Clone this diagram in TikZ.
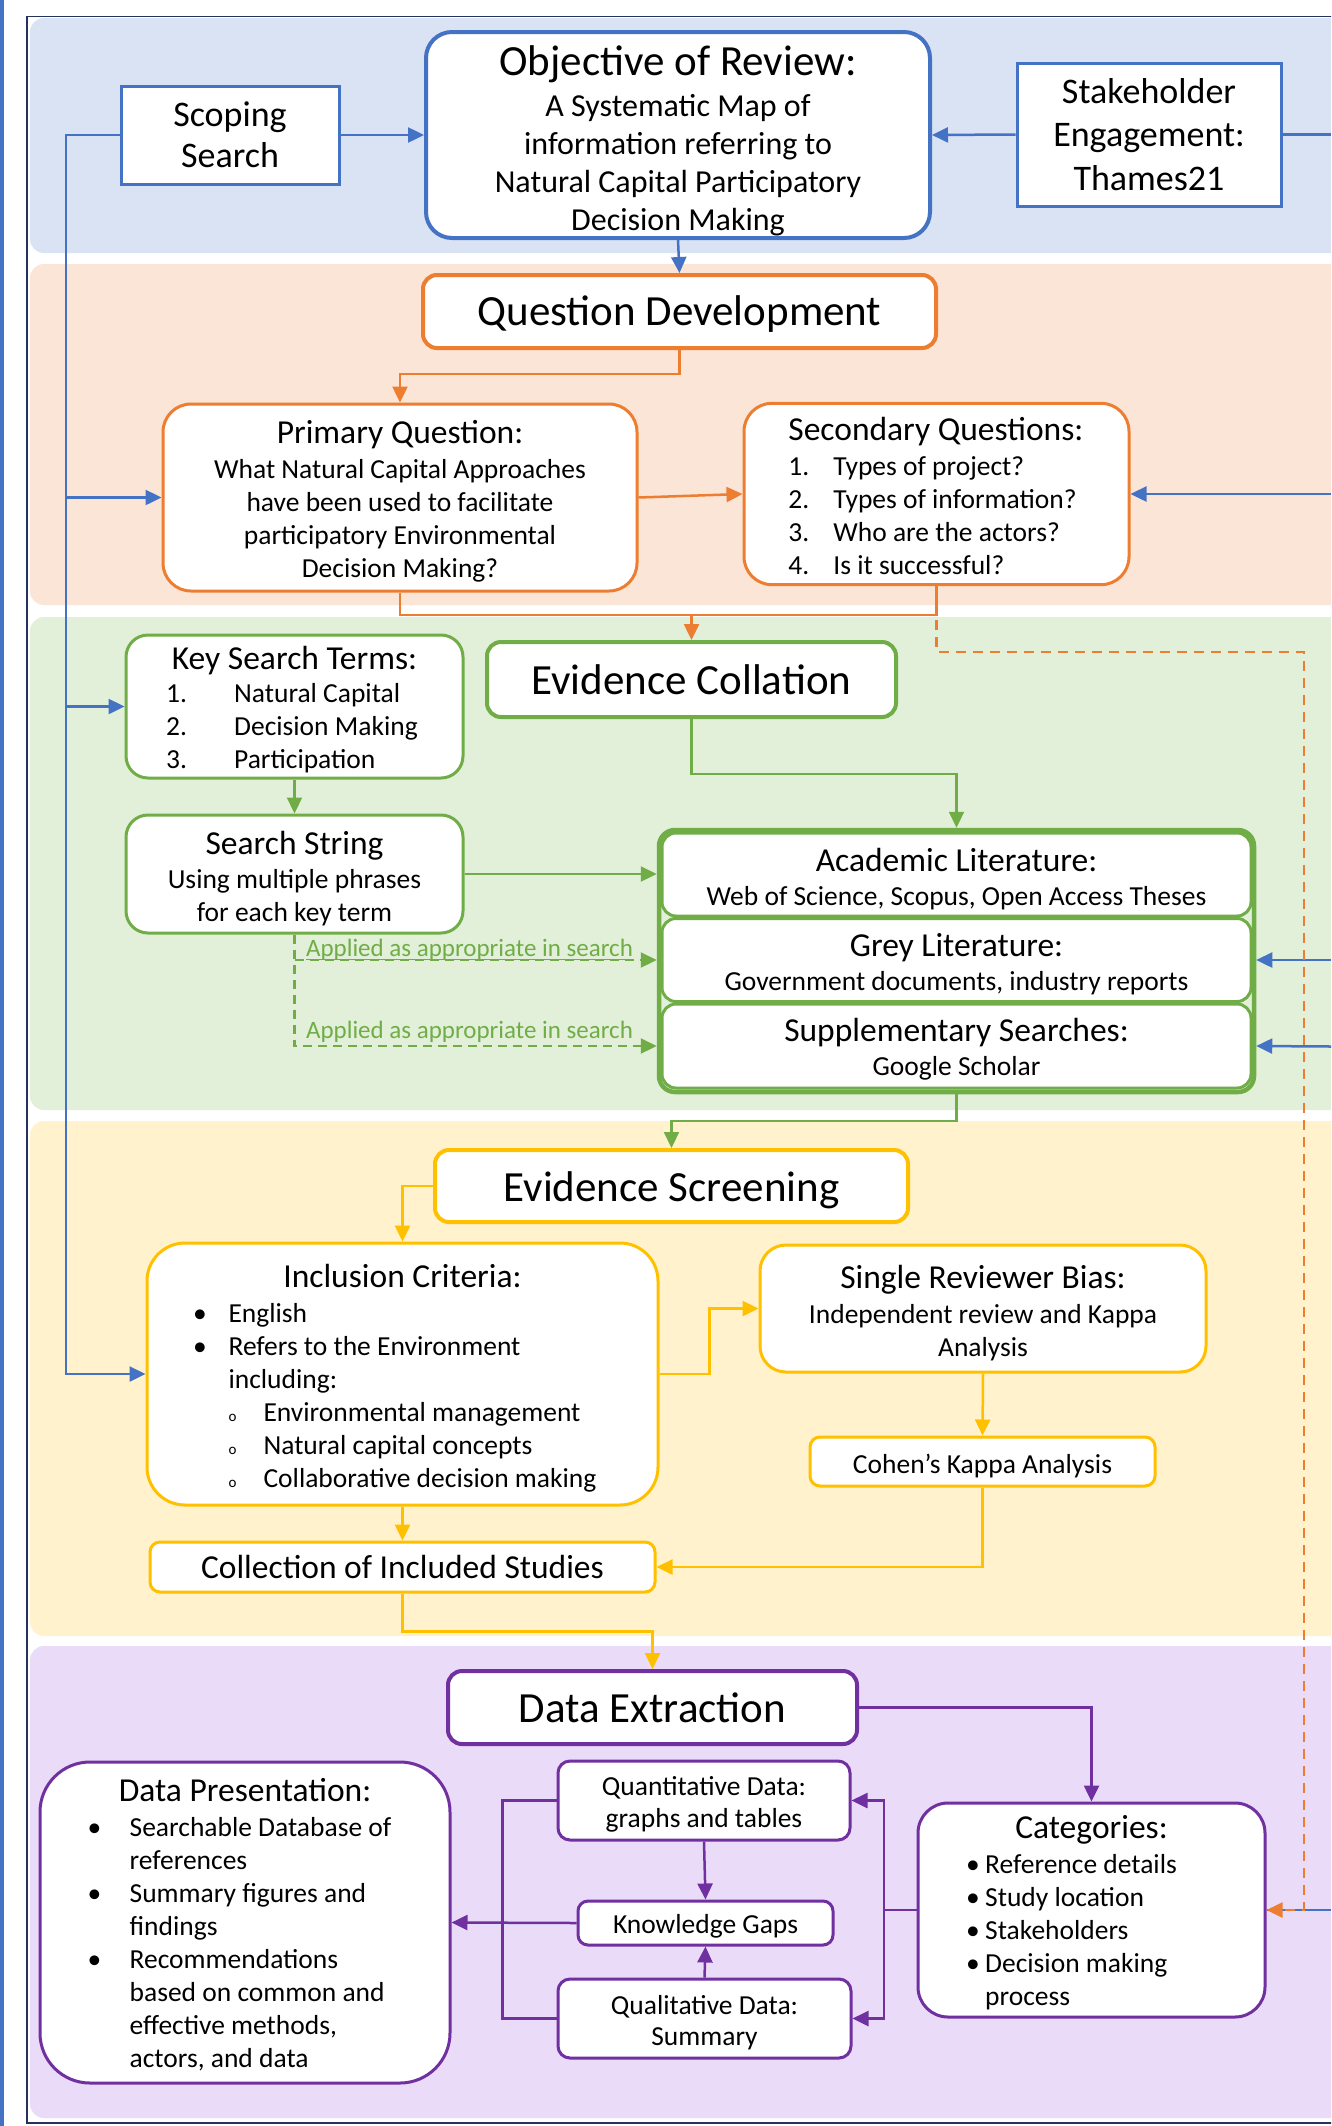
\documentclass[tikz,border=0pt]{standalone}
\usepackage{fontspec}
\setmainfont{Carlito}
\usetikzlibrary{arrows.meta}
\definecolor{cBlue}{HTML}{4472C4}
\definecolor{cOrange}{HTML}{ED7D31}
\definecolor{cGreen}{HTML}{70AD47}
\definecolor{cYellow}{HTML}{FFC000}
\definecolor{cPurple}{HTML}{7030A0}
\definecolor{bBlue}{HTML}{DAE3F3}
\definecolor{bOrange}{HTML}{FBE5D6}
\definecolor{bGreen}{HTML}{E2F0D9}
\definecolor{bYellow}{HTML}{FFF2CC}
\definecolor{bPurple}{HTML}{EADCF9}
\definecolor{cFrame}{HTML}{26325E}
\newcommand\fntT{\fontsize{43}{50}\selectfont}
\newcommand\fntS{\fontsize{33.5}{40}\selectfont}
\newcommand\fntB{\fontsize{27.5}{33}\selectfont}
\newcommand\fntO{\fontsize{32}{38}\selectfont}
\newcommand\fntA{\fontsize{25}{29}\selectfont}
\newcommand\sbul{{\fontsize{15}{15}\selectfont o}}
\newcommand\tup[1]{\rule{0pt}{#1pt}}
\newcommand\ulab[1]{\setbox0\hbox{#1}\rlap{\rule[-3.5pt]{\wd0}{1.5pt}}\box0}
\begin{document}
\begin{tikzpicture}[x=1pt,y=-1pt,
  bx/.style={draw,fill=white,align=center,inner sep=0pt,font=\fntB,line width=3pt},
  big/.style={bx,font=\fntT,line width=4pt,rounded corners=14pt},
  lnk/.style={line width=2.5pt},
  arr/.style={lnk,-{Triangle[length=16pt,width=15pt]}},
  band/.style={rounded corners=14pt}
]
\useasboundingbox (0,0) rectangle (1331,2126);
\clip (0,0) rectangle (1331,2126);
\fill[white] (0,0) rectangle (1331,2126);
\fill[cBlue] (0,0) rectangle (3.5,2126);
\draw[cFrame,line width=1.5pt] (1400,16.5) -- (27,16.5) -- (27,2123) -- (1400,2123);
\fill[bBlue,band] (30,18) rectangle (1380,253);
\fill[bOrange,band] (30,264) rectangle (1380,605);
\fill[bGreen,band] (30,617) rectangle (1380,1110);
\fill[bYellow,band] (30,1121) rectangle (1380,1636);
\fill[bPurple,band] (30,1646) rectangle (1380,2118);

% ---------- nodes ----------
\node[bx,draw=cBlue,font=\fontsize{36}{41}\selectfont,minimum width=218pt,minimum height=98pt] (scoping) at (230,135) {Scoping\\Search};
\node[bx,draw=cBlue,line width=4pt,rounded corners=26pt,font=\fntO,minimum width=504pt,minimum height=206pt] (objective) at (678,135)
  {\tup{41.5}{\fntT Objective of Review:}\\[3pt]A Systematic Map of\\information referring to\\Natural Capital Participatory\\Decision Making};
\node[bx,draw=cBlue,font=\fontsize{36}{43.5}\selectfont,minimum width=264pt,minimum height=143pt] (stake) at (1149,134.5) {Stakeholder\\Engagement:\\Thames21};

\node[big,draw=cOrange,minimum width=513pt,minimum height=73pt] (qdev) at (679.5,311.5) {\tup{35}Question Development};
\node[bx,draw=cOrange,rounded corners=28pt,minimum width=474pt,minimum height=187pt] (primary) at (400,497.5)
  {\tup{30.5}{\fntS Primary Question:}\\[2pt]What Natural Capital Approaches\\have been used to facilitate\\participatory Environmental\\Decision Making?};
\node[bx,draw=cOrange,rounded corners=28pt,minimum width=385pt,minimum height=180pt] (secondary) at (936.5,494)
  {\begin{tabular}{@{}p{45pt}@{}l@{}p{8pt}@{}}
   \multicolumn{3}{@{}l@{}}{\tup{37.5}\fntS Secondary Questions:}\\[2pt]
   1. & Types of project? &\\
   2. & Types of information? &\\
   3. & Who are the actors? &\\
   4. & Is it successful? &
   \end{tabular}};

\node[bx,draw=cGreen,rounded corners=22pt,minimum width=337pt,minimum height=143pt] (kst) at (294.5,706.5)
  {\begin{tabular}{@{}p{68pt}@{}l@{}p{5pt}@{}}
   \multicolumn{3}{@{}c@{}}{\tup{34}\fntS Key Search Terms:}\\
   1. & Natural Capital &\\
   2. & Decision Making &\\
   3. & Participation &
   \end{tabular}};
\node[bx,draw=cGreen,rounded corners=22pt,minimum width=337pt,minimum height=118pt] (sstring) at (294.5,874)
  {\tup{31.5}{\fntS Search String}\\[1pt]Using multiple phrases\\for each key term};
\node[big,draw=cGreen,minimum width=409pt,minimum height=75pt] (ecoll) at (691.5,679.5) {Evidence Collation};

\node[bx,draw=cGreen,rounded corners=14pt,minimum width=589pt,minimum height=83pt] (acad) at (956.5,874.5)
  {\tup{31.5}{\fntS Academic Literature:}\\[1pt]Web of Science, Scopus, Open Access Theses};
\node[bx,draw=cGreen,rounded corners=14pt,minimum width=589pt,minimum height=83pt] (grey) at (956.5,960)
  {\tup{30.5}{\fntS Grey Literature:}\\[1pt]Government documents, industry reports};
\node[bx,draw=cGreen,rounded corners=14pt,minimum width=589pt,minimum height=84pt] (supp) at (956.5,1046)
  {\tup{29}{\fntS Supplementary Searches:}\\[1pt]Google Scholar};
\node[draw=cGreen,line width=4.5pt,rounded corners=16pt,minimum width=595pt,minimum height=262pt,inner sep=0pt] (litgroup) at (956.5,961) {};

\node[text=cGreen,font=\fntA,inner sep=0pt] (lab1) at (469.5,950) {\ulab{Applied as appropriate in search}};
\node[text=cGreen,font=\fntA,inner sep=0pt] (lab2) at (469.5,1032) {Applied as appropriate in search};

\node[big,draw=cYellow,minimum width=473pt,minimum height=72pt] (escreen) at (671.5,1186) {\tup{38}Evidence Screening};
\node[bx,draw=cYellow,rounded corners=38pt,minimum width=511pt,minimum height=262pt] (inclusion) at (402.5,1374)
  {\begin{tabular}{@{}p{35.5pt}@{}l@{}p{15.5pt}@{}}
   \multicolumn{3}{@{}c@{}}{\tup{36.5}\fntS Inclusion Criteria:}\\[2pt]
   • & English &\\
   • & Refers to the Environment &\\
     & including: &\\
     & \makebox[35pt][l]{\sbul}Environmental management &\\
     & \makebox[35pt][l]{\sbul}Natural capital concepts &\\
     & \makebox[35pt][l]{\sbul}Collaborative decision making &
   \end{tabular}};
\node[bx,draw=cYellow,rounded corners=26pt,minimum width=446pt,minimum height=127pt] (srb) at (983,1308.5)
  {\tup{31.5}{\fntS Single Reviewer Bias:}\\[2pt]Independent review and Kappa\\Analysis};
\node[bx,draw=cYellow,rounded corners=10pt,minimum width=345pt,minimum height=49pt] (cohen) at (982.5,1461.5) {\tup{27.5}Cohen’s Kappa Analysis};
\node[bx,draw=cYellow,rounded corners=10pt,font=\fntS,minimum width=505pt,minimum height=50pt] (collect) at (402.5,1567) {Collection of Included Studies};

\node[big,draw=cPurple,minimum width=409pt,minimum height=73pt] (dextract) at (652.5,1707.5) {Data Extraction};
\node[bx,draw=cPurple,rounded corners=12pt,font=\fontsize{27.5}{31.5}\selectfont,minimum width=292pt,minimum height=79pt] (quant) at (704,1800.5) {\tup{27}Quantitative Data:\\graphs and tables};
\node[bx,draw=cPurple,rounded corners=10pt,minimum width=255pt,minimum height=44pt] (kgaps) at (705.5,1923) {\tup{24.7}Knowledge Gaps};
\node[bx,draw=cPurple,rounded corners=12pt,font=\fontsize{27.5}{31.5}\selectfont,minimum width=293pt,minimum height=79pt] (qual) at (704.5,2018.5) {\tup{27.3}Qualitative Data:\\Summary};
\node[bx,draw=cPurple,rounded corners=30pt,minimum width=347pt,minimum height=214pt] (categories) at (1091.5,1910)
  {\begin{tabular}{@{}p{19pt}@{}l@{}p{40pt}@{}}
   \multicolumn{3}{@{}c@{}}{\tup{34.5}\fntS Categories:}\\[2pt]
   • & Reference details &\\
   • & Study location &\\
   • & Stakeholders &\\
   • & Decision making &\\
     & process &
   \end{tabular}};
\node[bx,draw=cPurple,rounded corners=50pt,minimum width=410pt,minimum height=321pt] (datapres) at (245,1922.5)
  {\begin{tabular}{@{}p{42pt}@{}l@{}p{11pt}@{}}
   \multicolumn{3}{@{}c@{}}{\tup{34.5}\fntS Data Presentation:}\\[2pt]
   • & Searchable Database of &\\
     & references &\\
   • & Summary figures and &\\
     & findings &\\
   • & Recommendations &\\
     & based on common and &\\
     & effective methods, &\\
     & actors, and data &
   \end{tabular}};

% ---------- connectors ----------
\coordinate (bus) at (66,0);
\coordinate (rS) at (1331,134.5);
\coordinate (rQ) at (1331,494);
\coordinate (rG) at (1331,960);
\coordinate (rP) at (1331,1046.5);
\coordinate (rC) at (1331,1910);
\coordinate (j1) at (691.5,615);
\coordinate (dR) at (1304,652);
\coordinate (pb) at (884,1910);

\draw[arr,cBlue] (scoping.west) -| (bus |- inclusion.west) -- (inclusion.west);
\draw[arr,cBlue] (bus |- primary.west) -- (primary.west);
\draw[arr,cBlue] (bus |- kst.west) -- (kst.west);
\draw[arr,cBlue] (scoping.east) -- (objective.west);
\draw[arr,cBlue] (stake.west) -- (objective.east);
\draw[lnk,cBlue] (stake.east) -- (rS);
\draw[arr,cBlue] (objective.south) -- (qdev.north);

\draw[arr,cOrange] (qdev.south) -- ++(0,24) -| (primary.north);
\draw[arr,cOrange] (primary.east) -- (secondary.west);
\draw[arr,cBlue] (rQ) -- (secondary.east);
\draw[lnk,cOrange] (primary.south) |- (j1);
\draw[lnk,cOrange] (secondary.south) |- (j1);
\draw[arr,cOrange] (j1) -- (ecoll.north);

\draw[arr,cGreen,line width=2.2pt] (kst.south) -- (sstring.north);
\draw[arr,cGreen,line width=2.2pt] (sstring.east) -- (sstring.east -| litgroup.west);
\draw[arr,cGreen,line width=2.2pt,dash pattern=on 9pt off 6pt] (sstring.south) -- (sstring.south |- supp.west) -- (supp.west -| litgroup.west);
\draw[arr,cGreen,line width=2.2pt,dash pattern=on 9pt off 6pt] (sstring.south |- grey.west) -- (grey.west -| litgroup.west);
\draw[arr,cGreen,line width=2.2pt] (ecoll.south) -- ++(0,55) -| (litgroup.north);
\draw[arr,cGreen,line width=2.2pt] (litgroup.south) -- ++(0,27) -| (escreen.north);
\draw[arr,cBlue] (rG) -- (grey.east -| litgroup.east);
\draw[arr,cBlue] (rP) -- (supp.east -| litgroup.east);

\draw[arr,cYellow] (escreen.west) -| (inclusion.north);
\draw[arr,cYellow] (inclusion.east) -- ++(50,0) |- (srb.west);
\draw[arr,cYellow] (srb.south) -- (cohen.north);
\draw[arr,cYellow] (cohen.south) |- (collect.east);
\draw[arr,cYellow] (inclusion.south) -- (collect.north);
\draw[arr,cYellow] (collect.south) -- ++(0,38) -| (dextract.north);

\draw[arr,cPurple] (dextract.east) -| (categories.north);
\draw[lnk,cPurple] (categories.west) -- (pb);
\draw[arr,cPurple] (pb) |- (quant.east);
\draw[arr,cPurple] (pb) |- (qual.east);
\draw[arr,cPurple] (quant.south) -- (kgaps.north);
\draw[arr,cPurple] (qual.north) -- (kgaps.south);
\draw[lnk,cPurple] (quant.west) -- ++(-54,0) |- (qual.west);
\draw[arr,cPurple] (kgaps.west) -- (datapres.east);

\draw[lnk,cBlue] (rC) -- (categories.east);
\draw[arr,cOrange,dash pattern=on 10pt off 7pt] (secondary.south) |- (dR) |- (categories.east);
\end{tikzpicture}
\end{document}
